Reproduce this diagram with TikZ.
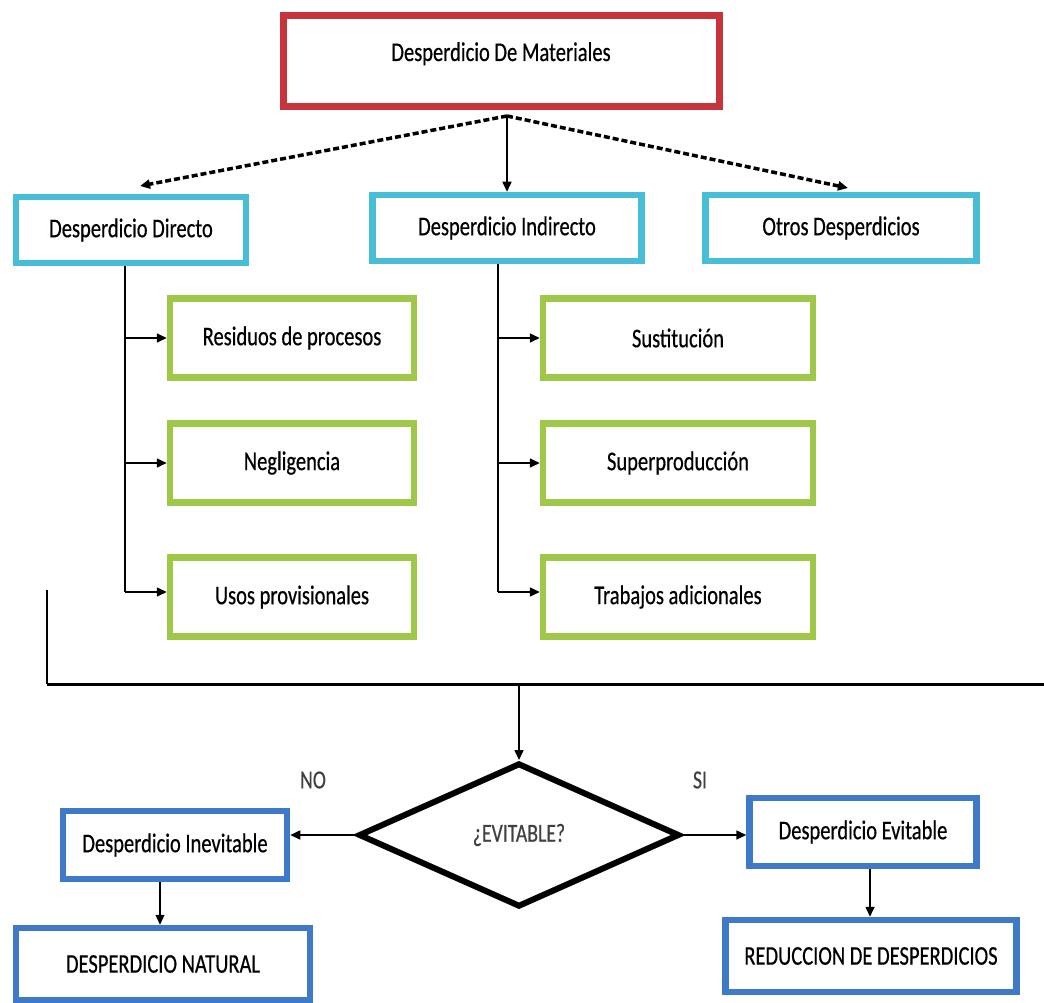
\documentclass[tikz,border=0pt]{standalone}
\usepackage{fontspec}
\setmainfont[FakeStretch=0.76,FakeBold=0.5]{Carlito}
\usetikzlibrary{arrows.meta,shapes.geometric}
\definecolor{rojo}{RGB}{200,52,60}
\definecolor{celeste}{RGB}{72,190,214}
\definecolor{verde}{RGB}{160,200,72}
\definecolor{azul}{RGB}{62,122,200}

\begin{document}
\begin{tikzpicture}[x=1pt,y=-1pt,
	caja/.style={draw,line width=6.5pt,fill=white,inner sep=0pt,font=\fontsize{27}{30}\selectfont},
	principal/.style={caja,draw=rojo,line width=7pt,minimum width=436pt,minimum height=91pt},
	tipo/.style={caja,draw=celeste,minimum height=66pt},
	causa/.style={caja,draw=verde,minimum width=244pt,minimum height=79pt},
	final/.style={caja,draw=azul,minimum height=68pt},
	flecha/.style={-{Triangle[length=10pt,width=9pt]},line width=1.6pt},
	trazo/.style={flecha,dash pattern=on 6pt off 3pt,line width=3.5pt},
	etiqueta/.style={font=\fontsize{26}{28}\selectfont,text=black!75}]
	\useasboundingbox (0,0) rectangle (1044,1003);
	\node[principal] (mat) at (501,61) {\smash{Desperdicio De Materiales}};
	\node[tipo,minimum width=230pt] (dir) at (131,230) {Desperdicio Directo};
	\node[tipo,minimum width=269pt] (ind) at (507,228) {Desperdicio Indirecto};
	\node[tipo,minimum width=271pt] (otr) at (841,228) {Otros Desperdicios};
	\node[causa] (res) at (292,338) {Residuos de procesos};
	\node[causa] (neg) at (292,463) {Negligencia};
	\node[causa] (uso) at (292,597) {Usos provisionales};
	\node[causa,minimum width=270pt] (sus) at (678,338) {Sustitución};
	\node[causa,minimum width=270pt] (sup) at (678,463) {Superproducción};
	\node[causa,minimum width=270pt] (tra) at (678,597) {Trabajos adicionales};
	\coordinate (ori) at (507,116);
	\draw[trazo] (ori) -- (140,186);
	\draw[flecha] (ori) -- (ind.north);
	\draw[trazo] (ori) -- (848,188);
	\draw[line width=1.6pt] (dir.south -| 125,0) -- (125,592);
	\draw[flecha] (125,338) -- (res.west);
	\draw[flecha] (125,463) -- (neg.west);
	\draw[flecha] (125,592) -- (uso.west |- 125,592);
	\draw[line width=1.6pt] (ind.south -| 498,0) -- (498,592);
	\draw[flecha] (498,338) -- (sus.west);
	\draw[flecha] (498,463) -- (sup.west);
	\draw[flecha] (498,592) -- (tra.west |- 498,592);
	\coordinate (lin) at (47,684);
	\draw[line width=1.4pt] (47,590) -- (lin);
	\draw[line width=3pt] (lin) -- (1044,684);
	\node[diamond,draw,line width=6pt,inner sep=0pt,minimum width=321pt,minimum height=144pt] (dia) at (519,835) {};
	\node[etiqueta] at (dia.center) {¿EVITABLE?};
	\draw[flecha] (519,684) -- (dia.north);
	\node[final,minimum width=224pt] (ine) at (175,845) {Desperdicio Inevitable};
	\node[final,minimum width=294pt,minimum height=72pt] (nat) at (163,964) {DESPERDICIO NATURAL};
	\node[final,minimum width=227pt] (evi) at (863,832) {Desperdicio Evitable};
	\node[final,minimum width=291pt,minimum height=72pt] (red) at (871,956) {REDUCCION DE DESPERDICIOS};
	\draw[flecha] (dia.west) -- (dia.west -| ine.east);
	\draw[flecha] (dia.east) -- (dia.east -| evi.west);
	\draw[flecha,line width=1.2pt] (ine.south -| 160,0) -- (nat.north -| 160,0);
	\draw[flecha] (evi.south -| 870,0) -- (red.north -| 870,0);
	\node[etiqueta] (no) at (313,780) {NO};
	\node[etiqueta] (si) at (700,780) {SI};
\end{tikzpicture}
\end{document}
